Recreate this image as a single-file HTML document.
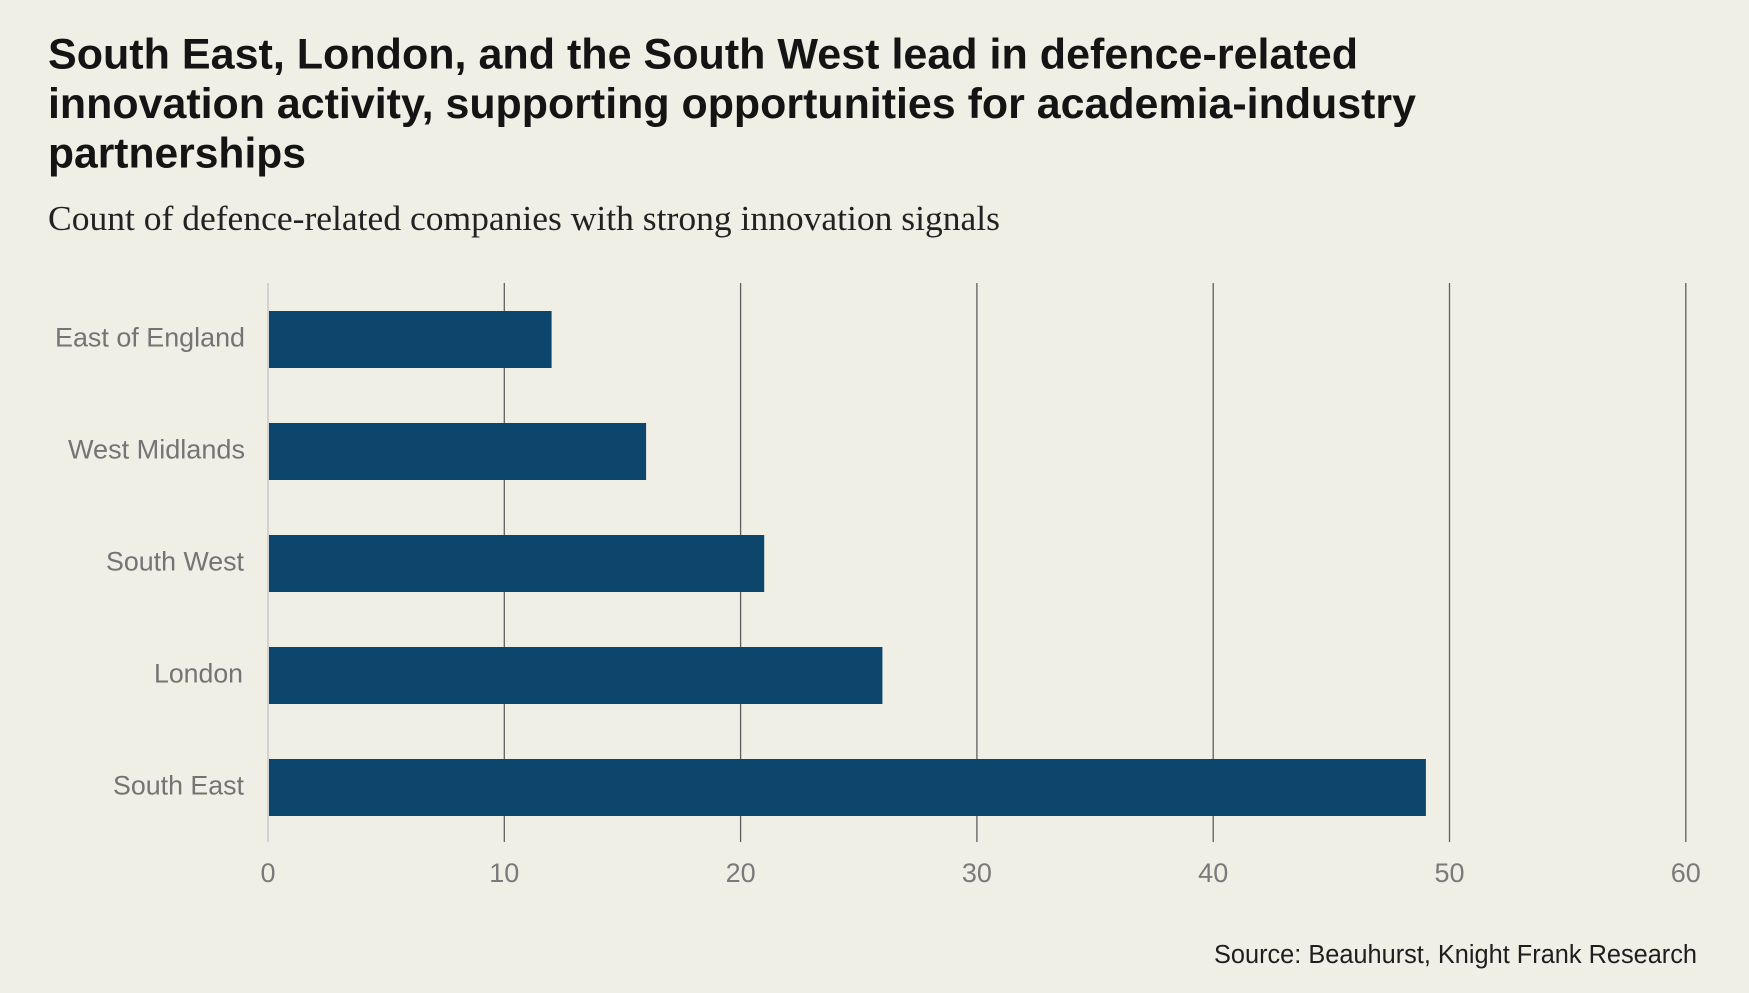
<!DOCTYPE html>
<html>
<head>
<meta charset="utf-8">
<style>
  html, body { margin: 0; padding: 0; background: #f0efe6; }
  body { width: 1749px; height: 993px; overflow: hidden; }
  svg { display: block; }
</style>
</head>
<body>
<svg width="1749" height="993" viewBox="0 0 1749 993" xmlns="http://www.w3.org/2000/svg">
  <rect x="0" y="0" width="1749" height="993" fill="#f0efe6"/>

  <!-- Title -->
  <g font-family="'Liberation Sans', Arial, sans-serif" font-weight="bold" font-size="43" fill="#141414">
    <text x="48" y="68.5" textLength="1310" lengthAdjust="spacingAndGlyphs">South East, London, and the South West lead in defence-related</text>
    <text x="48" y="118" textLength="1368" lengthAdjust="spacingAndGlyphs">innovation activity, supporting opportunities for academia-industry</text>
    <text x="48" y="167.5" textLength="258" lengthAdjust="spacingAndGlyphs">partnerships</text>
  </g>

  <!-- Subtitle -->
  <text x="48" y="230" font-family="'Liberation Serif', Georgia, serif" font-size="35" fill="#222" textLength="952" lengthAdjust="spacingAndGlyphs">Count of defence-related companies with strong innovation signals</text>

  <!-- Gridlines -->
  <g stroke="#5e5e5e" stroke-width="1.3">
    <line x1="504.3" y1="283" x2="504.3" y2="842"/>
    <line x1="740.6" y1="283" x2="740.6" y2="842"/>
    <line x1="976.9" y1="283" x2="976.9" y2="842"/>
    <line x1="1213.2" y1="283" x2="1213.2" y2="842"/>
    <line x1="1449.5" y1="283" x2="1449.5" y2="842"/>
    <line x1="1685.8" y1="283" x2="1685.8" y2="842"/>
  </g>
  <!-- Zero axis line -->
  <line x1="268" y1="283" x2="268" y2="842" stroke="#d2d2d2" stroke-width="2"/>

  <!-- Bars -->
  <g fill="#0c466d">
    <rect x="269" y="311" width="282.6" height="57"/>
    <rect x="269" y="423" width="377.1" height="57"/>
    <rect x="269" y="535" width="495.2" height="57"/>
    <rect x="269" y="647" width="613.4" height="57"/>
    <rect x="269" y="759" width="1156.9" height="57"/>
  </g>

  <!-- Category labels -->
  <g font-family="'Liberation Sans', Arial, sans-serif" font-size="27" fill="#747474" text-anchor="end">
    <text x="245" y="346.5" textLength="190" lengthAdjust="spacingAndGlyphs">East of England</text>
    <text x="245" y="458.5" textLength="177" lengthAdjust="spacingAndGlyphs">West Midlands</text>
    <text x="244" y="570.5" textLength="138" lengthAdjust="spacingAndGlyphs">South West</text>
    <text x="243" y="682.5" textLength="89" lengthAdjust="spacingAndGlyphs">London</text>
    <text x="244" y="794.5" textLength="131" lengthAdjust="spacingAndGlyphs">South East</text>
  </g>

  <!-- X tick labels -->
  <g font-family="'Liberation Sans', Arial, sans-serif" font-size="27" fill="#7a7a7a" text-anchor="middle">
    <text x="268" y="882">0</text>
    <text x="504.3" y="882">10</text>
    <text x="740.6" y="882">20</text>
    <text x="976.9" y="882">30</text>
    <text x="1213.2" y="882">40</text>
    <text x="1449.5" y="882">50</text>
    <text x="1685.8" y="882">60</text>
  </g>

  <!-- Source -->
  <text x="1697" y="963" font-family="'Liberation Sans', Arial, sans-serif" font-size="25.5" fill="#1e1e1e" text-anchor="end" textLength="483" lengthAdjust="spacingAndGlyphs">Source: Beauhurst, Knight Frank Research</text>
</svg>
</body>
</html>
